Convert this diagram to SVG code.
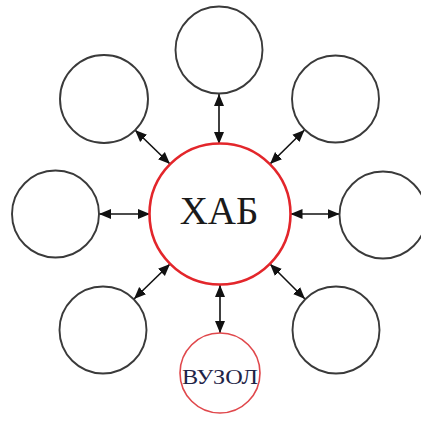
<svg xmlns="http://www.w3.org/2000/svg" width="421" height="427" viewBox="0 0 421 427">
  <style>
    .sat { fill: #ffffff; stroke: #3a3a3a; stroke-width: 1.9; }
    .hub { fill: #ffffff; stroke: #e3262b; stroke-width: 2.6; }
    .leaf { fill: #ffffff; stroke: #e0484c; stroke-width: 1.6; }
    .link { stroke: #111111; stroke-width: 1.6; fill: none; marker-start: url(#tip); marker-end: url(#tip); }
    .label { font-family: "Liberation Serif", "Times New Roman", serif; text-anchor: middle; }
  </style>
  <defs>
    <marker id="tip" markerUnits="userSpaceOnUse" markerWidth="12" markerHeight="12" viewBox="0 0 12 12" refX="12" refY="6" orient="auto-start-reverse">
      <path d="M0,1 L12,6 L0,11 Z" fill="#111111"/>
    </marker>
  </defs>
  <rect width="421" height="427" fill="#ffffff"/>

  <!-- connectors: each link runs between the hub rim and a satellite rim -->
  <g id="connectors">
    <line class="link" x1="219" y1="94" x2="219" y2="144"/>
    <line class="link" x1="135" y1="130" x2="170" y2="164"/>
    <line class="link" x1="304.5" y1="130" x2="270" y2="164"/>
    <line class="link" x1="99" y1="214" x2="150" y2="214"/>
    <line class="link" x1="339.5" y1="214" x2="290.5" y2="214"/>
    <line class="link" x1="134" y1="299" x2="170" y2="264"/>
    <line class="link" x1="305" y1="299" x2="270" y2="264"/>
    <line class="link" x1="220" y1="333" x2="220" y2="285"/>
  </g>

  <g id="hub">
    <circle class="hub" cx="220" cy="214" r="70.5"/>
    <text class="label" x="219" y="224" font-size="39" fill="#1a1a1a">ХАБ</text>
  </g>

  <g id="node-top"><circle class="sat" cx="219" cy="50" r="43.5"/></g>
  <g id="node-top-left"><circle class="sat" cx="104" cy="99" r="44"/></g>
  <g id="node-top-right"><circle class="sat" cx="335.5" cy="99" r="43.5"/></g>
  <g id="node-left"><circle class="sat" cx="55.5" cy="214" r="43.5"/></g>
  <g id="node-right"><circle class="sat" cx="383" cy="215" r="43.5"/></g>
  <g id="node-bottom-left"><circle class="sat" cx="103" cy="330" r="43.5"/></g>
  <g id="node-bottom-right"><circle class="sat" cx="336" cy="330" r="43.5"/></g>

  <g id="node-vuzol">
    <circle class="leaf" cx="220" cy="373" r="40"/>
    <text class="label" x="220" y="384" font-size="20" fill="#1f2447" textLength="76" lengthAdjust="spacingAndGlyphs">ВУЗОЛ</text>
  </g>
</svg>
